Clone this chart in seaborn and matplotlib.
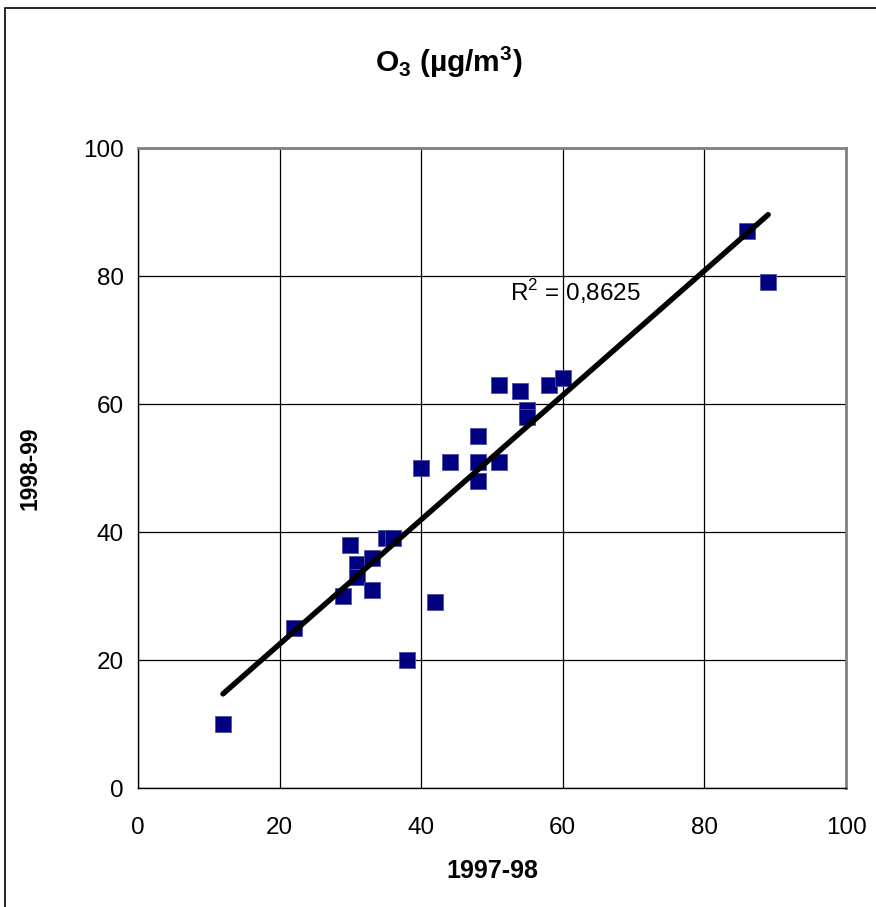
import numpy as np
import seaborn as sns
import matplotlib.pyplot as plt
from matplotlib.patches import Rectangle

# 1997-98 vs 1998-99 ozone values
x_9798 = [12, 22, 29, 30, 31, 31, 33, 33, 35, 36, 38, 42, 40, 44, 48, 48, 48,
          51, 51, 54, 55, 55, 58, 60, 86, 89]
y_9899 = [10, 25, 30, 38, 35, 33, 36, 31, 39, 39, 20, 29, 50, 51, 55, 51, 48,
          51, 63, 62, 59, 58, 63, 64, 87, 79]
ticks = [0, 20, 40, 60, 80, 100]
r2_label = "R$^2$ = 0,8625"

sns.set_style("white")
plt.rcParams['font.family'] = ['Liberation Sans', 'DejaVu Sans']
plt.rcParams['mathtext.fontset'] = 'custom'
plt.rcParams['mathtext.rm'] = 'Liberation Sans'
plt.rcParams['mathtext.bf'] = 'Liberation Sans:bold'
for key in ['text.color', 'axes.labelcolor', 'xtick.color', 'ytick.color']:
    plt.rcParams[key] = 'black'

fig = plt.figure(figsize=(8.76, 9.07), dpi=100)
ax = fig.add_axes([0.1575, 0.1312, 0.8083, 0.7056])

sns.regplot(x=x_9798, y=y_9899, ax=ax, ci=None, marker='s',
            scatter_kws=dict(s=120, color='#000080', edgecolors='#5050a8',
                             linewidths=0.6, alpha=1, zorder=3),
            line_kws=dict(color='black', linewidth=3.9, zorder=4,
                          solid_capstyle='round'))

ax.set_xlim(0, 100)
ax.set_ylim(0, 100)
ax.set_xticks(ticks)
ax.set_yticks(ticks)
ax.grid(True, color='black', linewidth=0.9)
ax.set_axisbelow(True)
for side in ['left', 'bottom']:
    ax.spines[side].set_color('black')
    ax.spines[side].set_linewidth(1.0)
for side in ['top', 'right']:
    ax.spines[side].set_color('#808080')
    ax.spines[side].set_linewidth(2.0)
ax.tick_params(axis='both', direction='out', length=5, width=1,
               labelsize=17.5, colors='black', pad=5)
ax.tick_params(axis='x', pad=16)

ax.set_xlabel("1997-98", fontsize=18, fontweight='bold', labelpad=14)
ax.set_ylabel("1998-99", fontsize=16.5, fontweight='bold', labelpad=30)

ax.text(52.6, 77.6, r2_label, fontsize=17.5, ha='left', va='center')

fig.text(449 / 876, 1 - 62 / 907, r"$\mathbf{O_3}$ (µg/m$\mathbf{^3}$)",
         fontsize=21.5, fontweight='bold', ha='center', va='center')

fig.patches.append(Rectangle((5 / 876, -0.05), 1.2, 1 - 8 / 907 + 0.05,
                             transform=fig.transFigure, fill=False,
                             edgecolor='black', linewidth=1.2))

fig.savefig("out.png", dpi=100)
